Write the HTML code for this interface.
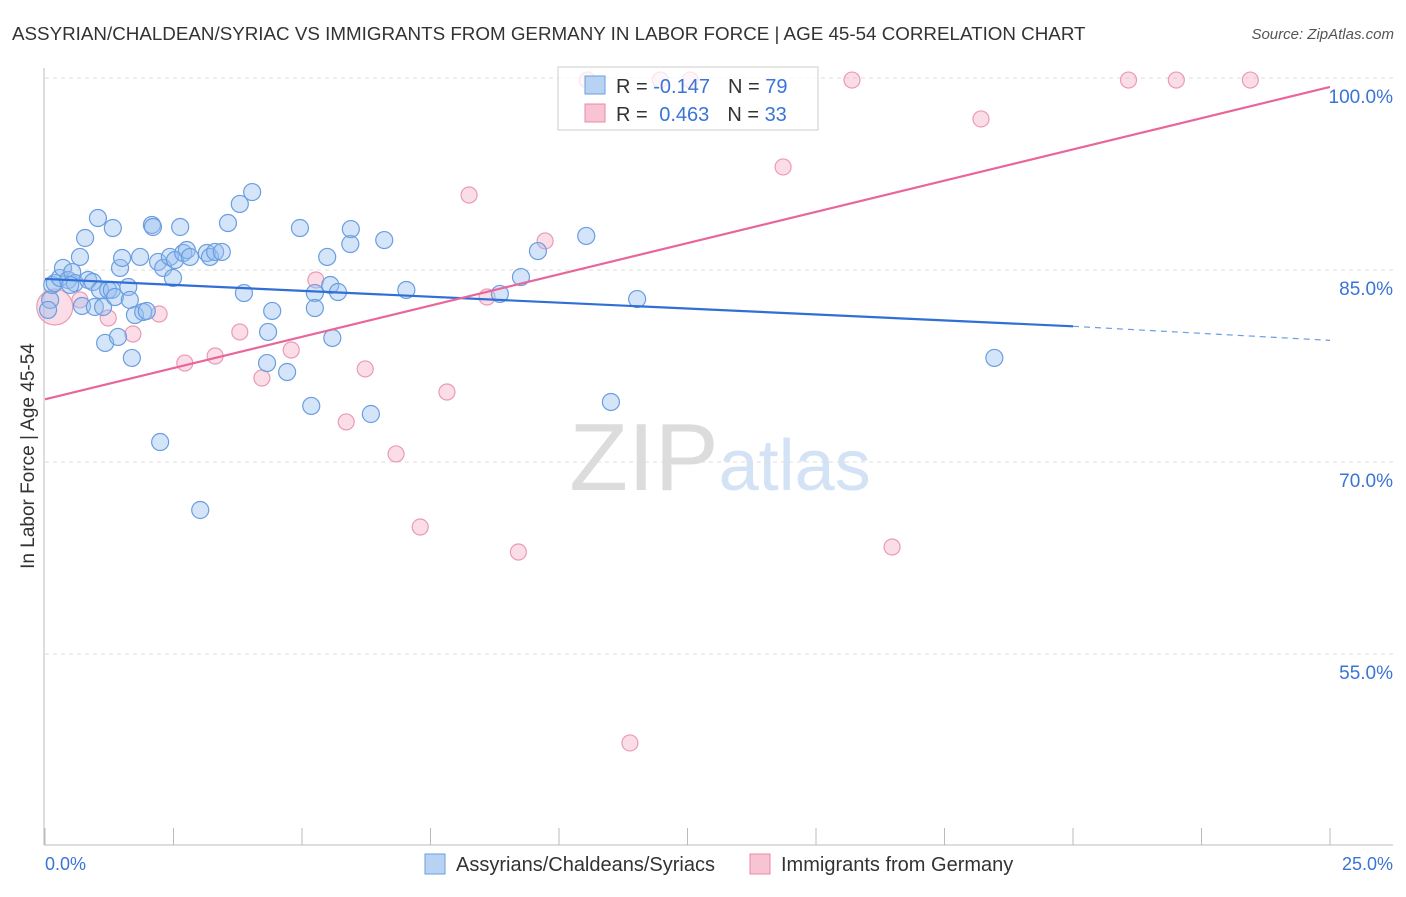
<!DOCTYPE html>
<html><head><meta charset="utf-8"><style>
body{margin:0;background:#fff;font-family:"Liberation Sans",sans-serif;}
svg text{font-family:"Liberation Sans",sans-serif;}
</style></head><body>
<svg id="chart" width="1406" height="892">
<text x="12" y="40" font-size="18.8" fill="#333">ASSYRIAN/CHALDEAN/SYRIAC VS IMMIGRANTS FROM GERMANY IN LABOR FORCE | AGE 45-54 CORRELATION CHART</text>
<text x="1394" y="39" font-size="15" fill="#555" text-anchor="end" font-style="italic">Source: ZipAtlas.com</text>
<text x="34" y="456" font-size="19" fill="#333" text-anchor="middle" transform="rotate(-90 34 456)">In Labor Force | Age 45-54</text>
<text x="720" y="490" font-size="96" fill="#ddd" text-anchor="middle" font-family="Liberation Serif"><tspan fill="#dcdcdc">ZIP</tspan><tspan fill="#d3e2f5" font-family="Liberation Sans" font-size="72">atlas</tspan></text>
<g id="grid"></g><g id="ticks"></g>
<line x1="44" y1="68" x2="44" y2="845" stroke="#bbb"/>
<line x1="44" y1="845" x2="1393" y2="845" stroke="#bbb"/>
<g id="pinkpts"></g><g id="bluepts"></g><g id="lines"></g>
<text x="45" y="870" font-size="18" fill="#3a74d6">0.0%</text>
<text x="1393" y="870" font-size="18" fill="#3a74d6" text-anchor="end">25.0%</text>
<g>
<rect x="558" y="67" width="260" height="63" fill="rgba(255,255,255,0.75)" stroke="#ccc"/>
<rect x="585" y="76" width="20" height="18" fill="#b8d2f4" stroke="#6a9ee0"/>
<rect x="585" y="104" width="20" height="18" fill="#f8c4d4" stroke="#e88aa8"/>
<text x="616" y="93" font-size="20" fill="#333">R = <tspan fill="#3a74d6">-0.147</tspan><tspan dx="18">N = </tspan><tspan fill="#3a74d6">79</tspan></text>
<text x="616" y="121" font-size="20" fill="#333">R = <tspan fill="#3a74d6" dx="6">0.463</tspan><tspan dx="18">N = </tspan><tspan fill="#3a74d6">33</tspan></text>
</g>
<g>
<rect x="425" y="854" width="20" height="20" fill="#b8d2f4" stroke="#6a9ee0"/>
<text x="456" y="871" font-size="20" fill="#333">Assyrians/Chaldeans/Syriacs</text>
<rect x="750" y="854" width="20" height="20" fill="#f8c4d4" stroke="#e88aa8"/>
<text x="781" y="871" font-size="20" fill="#333">Immigrants from Germany</text>
</g>
</svg>
<script>
const yTicks=[100,85,70,55];
const xTickCount=10;
const blueX=[0.10,0.14,0.19,0.29,0.35,0.45,0.53,0.58,0.68,0.72,0.78,0.84,0.93,0.97,1.03,1.07,1.13,1.17,1.23,1.30,1.32,1.36,1.42,1.46,1.50,1.62,1.65,1.69,1.75,1.85,1.91,1.98,2.08,2.10,2.20,2.24,2.30,2.43,2.49,2.53,2.63,2.69,2.76,2.82,3.02,3.15,3.21,3.31,3.44,3.56,3.79,3.87,4.03,4.32,4.34,4.42,4.71,4.96,5.18,5.25,5.25,5.49,5.55,5.59,5.70,5.94,5.95,6.34,6.60,7.03,8.85,9.26,9.59,10.53,11.01,11.52,18.47,0.06,0.49];
const blueY=[82.66,83.83,83.98,84.38,85.16,84.22,84.84,83.98,86.02,82.19,87.50,84.22,84.06,82.11,89.06,83.44,82.11,79.30,83.44,83.44,88.28,82.89,79.77,85.16,85.94,83.67,82.66,78.13,81.48,86.02,81.72,81.80,88.52,88.36,85.63,71.56,85.16,86.02,84.38,85.78,88.36,86.33,86.56,86.02,66.25,86.33,86.02,86.41,86.41,88.67,90.16,83.20,91.09,77.73,80.16,81.80,77.03,88.28,74.38,83.20,82.03,86.02,83.83,79.69,83.28,87.03,88.20,73.75,87.34,83.44,83.13,84.45,86.48,87.66,74.69,82.73,78.13,81.88,83.83];
const pinkX=[0.68,1.23,1.71,2.22,2.72,3.31,3.79,4.22,4.79,5.27,5.86,6.23,6.83,7.30,7.82,8.25,8.60,9.21,9.73,10.55,11.38,11.97,12.55,14.36,15.70,16.48,18.21,21.08,22.01,23.45,0.19];
const pinkY=[82.66,81.25,80.0,81.56,77.73,78.28,80.16,76.56,78.75,84.22,73.13,77.27,70.63,64.92,75.47,90.86,82.89,62.97,87.27,99.84,48.05,99.84,99.84,93.05,99.84,63.36,96.8,99.84,99.84,99.84,82.11];
const pinkR=[8,8,8,8,8,8,8,8,8,8,8,8,8,8,8,8,8,8,8,8,8,8,8,8,8,8,8,8,8,8,18];
const blueTrend=[84.3,80.6,79.5]; // at x=0, 20 (solid end), 25
const pinkTrend=[74.9,99.3]; // at x=0, 25
const NS="http://www.w3.org/2000/svg";
const sx=v=>45+v/25*1285;
const sy=v=>78+(100-v)*12.8;
function mk(tag,attrs,parent){const e=document.createElementNS(NS,tag);for(const k in attrs)e.setAttribute(k,attrs[k]);const p=document.getElementById(parent);p.appendChild(e);return e;}
yTicks.forEach(t=>{
 const l=mk('line',{x1:45,x2:1393,y1:sy(t),y2:sy(t),stroke:'#ddd','stroke-dasharray':'4,4'},'grid');
 
 
 const tx=mk('text',{x:1393,y:sy(t)+25,'font-size':19,fill:'#3a74d6','text-anchor':'end'},'grid');
 tx.textContent=t.toFixed(1)+'%';
 
 
});
for(let i=0;i<=xTickCount;i++){
 const x=sx(i*25/xTickCount);
 const l=mk('line',{x1:x,x2:x,y1:828,y2:845,stroke:'#bbb'},'ticks');
 
 
}
pinkX.forEach((v,i)=>{
 const c=mk('circle',{cx:sx(v),cy:sy(pinkY[i]),r:pinkR[i],fill:'rgba(245,170,195,0.4)',stroke:'#eb9ab5','stroke-width':1.2},'pinkpts');
 
 
});
blueX.forEach((v,i)=>{
 const c=mk('circle',{cx:sx(v),cy:sy(blueY[i]),r:8.5,fill:'rgba(150,190,240,0.4)',stroke:'#6a9ee0','stroke-width':1.2},'bluepts');
 
 
});
let l1=mk('line',{x1:sx(0),y1:sy(blueTrend[0]),x2:sx(20),y2:sy(blueTrend[1]),stroke:'#2f6fd6','stroke-width':2.2},'lines');


let l2=mk('line',{x1:sx(20),y1:sy(blueTrend[1]),x2:sx(25),y2:sy(blueTrend[2]),stroke:'#6a9ee0','stroke-width':1.2,'stroke-dasharray':'6,5'},'lines');


let l3=mk('line',{x1:sx(0),y1:sy(pinkTrend[0]),x2:sx(25),y2:sy(pinkTrend[1]),stroke:'#e8669a','stroke-width':2.2},'lines');


</script>
</body></html>
